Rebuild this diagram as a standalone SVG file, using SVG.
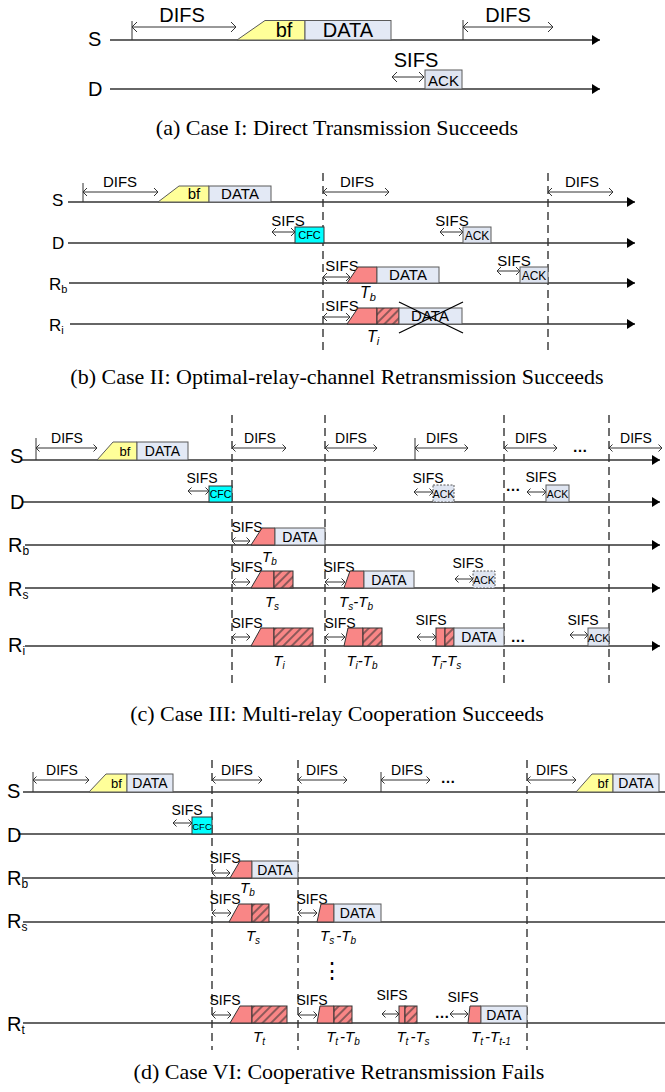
<svg xmlns="http://www.w3.org/2000/svg" width="665" height="1092" viewBox="0 0 665 1092">
<defs>
<style>
.tl{stroke:#333;stroke-width:1.5;fill:none}
.tlA{stroke:#333;stroke-width:1.5;fill:none;marker-end:url(#tri)}
.dash{stroke:#333;stroke-width:1.4;stroke-dasharray:8 5;fill:none}
.tk{stroke:#333;stroke-width:1;fill:none}
.aA{stroke:#333;stroke-width:1;fill:none;marker-start:url(#chA);marker-end:url(#chA)}
.aB{stroke:#333;stroke-width:1;fill:none;marker-start:url(#chB);marker-end:url(#chB)}
.aC{stroke:#333;stroke-width:1;fill:none;marker-start:url(#chC);marker-end:url(#chC)}
.data{fill:#e3e9f5;stroke:#5a5a5a;stroke-width:1}
.bf{fill:#ffff99;stroke:#5a5a5a;stroke-width:1}
.red{fill:#f98686;stroke:#333;stroke-width:1}
.hat{fill:url(#hatch);stroke:#333;stroke-width:1}
.cfc{fill:#00ffff;stroke:#333;stroke-width:1}
.ack{fill:#dfe5f1;stroke:#5a5a5a;stroke-width:1}
.ackd{fill:#dfe5f1;stroke:#5a5a5a;stroke-width:1;stroke-dasharray:2 1.5}
.x{stroke:#000;stroke-width:1.3}
text{font-family:"Liberation Sans",Arial,sans-serif;fill:#000}
.m{text-anchor:middle}
.n{font-family:"Liberation Sans Narrow","Arial Narrow","Liberation Sans",Arial,sans-serif}
.it{font-style:italic}
.cap{font-family:"Liberation Serif","Times New Roman",serif;font-size:22px;text-anchor:middle}
.fa{font-size:20px}
.fb{font-size:15px}
.fl{font-size:17px}
.fc{font-size:14px}
.fr{font-size:20px}
.fs{font-size:10.5px}
.dots{font-size:15px;font-weight:bold;text-anchor:middle}
</style>
<marker id="tri" markerUnits="userSpaceOnUse" markerWidth="10" markerHeight="12" refX="8" refY="5" orient="auto" overflow="visible"><path d="M0,0 L8,5 L0,10 z" fill="#000"/></marker>
<marker id="chA" markerUnits="userSpaceOnUse" markerWidth="10" markerHeight="12" refX="6" refY="5" orient="auto-start-reverse" overflow="visible"><path d="M1,0 L6,5 L1,10" fill="none" stroke="#333" stroke-width="1"/></marker>
<marker id="chB" markerUnits="userSpaceOnUse" markerWidth="10" markerHeight="12" refX="6" refY="5" orient="auto-start-reverse" overflow="visible"><path d="M2,1 L6,5 L2,9" fill="none" stroke="#333" stroke-width="1"/></marker>
<marker id="chC" markerUnits="userSpaceOnUse" markerWidth="10" markerHeight="12" refX="6" refY="5" orient="auto-start-reverse" overflow="visible"><path d="M2.5,1.5 L6,5 L2.5,8.5" fill="none" stroke="#333" stroke-width="1"/></marker>
<pattern id="hatch" patternUnits="userSpaceOnUse" width="6" height="6" patternTransform="rotate(45)"><rect width="6" height="6" fill="#f98686"/><line x1="3" y1="0" x2="3" y2="6" stroke="#333" stroke-width="1.1"/></pattern>
</defs>
<rect width="665" height="1092" fill="#fff"/>

<!-- Panel (a) -->
<g id="panel-a">
<g id="a-connectors">
<line class="tlA" x1="110" y1="40" x2="600" y2="40"/>
<line class="tlA" x1="110" y1="89" x2="600" y2="89"/>
<line class="tk" x1="132" y1="21" x2="132" y2="40"/>
<line class="aA" x1="132" y1="27" x2="236" y2="27"/>
<line class="tk" x1="463" y1="20" x2="463" y2="40"/>
<line class="aA" x1="463" y1="27" x2="553" y2="27"/>
<line class="aA" x1="392" y1="77" x2="424" y2="77"/>
</g>
<g id="a-labels">
<text class="fa" x="88" y="46">S</text>
<text class="fa" x="88" y="96">D</text>
<text class="fa m" x="182" y="22">DIFS</text>
<text class="fa m" x="508" y="22">DIFS</text>
<text class="fa m" x="416" y="67">SIFS</text>
</g>
<g id="a-bf"><polygon class="bf" points="237,40 265,20.5 305,20.5 305,40"/><text class="fa m" x="284" y="37">bf</text></g>
<g id="a-data"><rect class="data" x="305" y="20.5" width="86" height="19.5"/><text class="fa m" x="348" y="37">DATA</text></g>
<g id="a-ack"><rect class="ack" x="425" y="70" width="37" height="19"/><text class="m" font-size="15" x="443.5" y="85.5">ACK</text></g>
<text class="cap" x="337" y="135">(a) Case I: Direct Transmission Succeeds</text>
</g>

<!-- Panel (b) -->
<g id="panel-b">
<g id="b-connectors">
<line class="tlA" x1="68" y1="202" x2="635" y2="202"/>
<line class="tlA" x1="68" y1="243" x2="635" y2="243"/>
<line class="tlA" x1="69" y1="283" x2="635" y2="283"/>
<line class="tlA" x1="70" y1="324" x2="635" y2="324"/>
<line class="dash" x1="323" y1="173" x2="323" y2="350"/>
<line class="dash" x1="548" y1="173" x2="548" y2="350"/>
<line class="tk" x1="83" y1="183" x2="83" y2="202"/>
<line class="aB" x1="83" y1="192" x2="158" y2="192"/>
<line class="aB" x1="323" y1="192" x2="389" y2="192"/>
<line class="aB" x1="548" y1="192" x2="613" y2="192"/>
<line class="aB" x1="272" y1="232" x2="295" y2="232"/>
<line class="aB" x1="440" y1="232" x2="463" y2="232"/>
<line class="aB" x1="323" y1="277" x2="350" y2="277"/>
<line class="aB" x1="497" y1="271" x2="520" y2="271"/>
<line class="aB" x1="323" y1="317" x2="350" y2="317"/>
</g>
<g id="b-labels">
<text class="fl" x="52" y="206">S</text>
<text class="fl" x="52" y="249">D</text>
<text class="fl" x="49" y="290">R<tspan font-size="11" dy="3">b</tspan></text>
<text class="fl" x="49" y="331">R<tspan font-size="11" dy="3">i</tspan></text>
<text class="fb m" x="120" y="187">DIFS</text>
<text class="fb m" x="357" y="187">DIFS</text>
<text class="fb m" x="582" y="187">DIFS</text>
<text class="fb m" x="288" y="226">SIFS</text>
<text class="fb m" x="452" y="226">SIFS</text>
<text class="fb m" x="342" y="271">SIFS</text>
<text class="fb m" x="514" y="266">SIFS</text>
<text class="fb m" x="342" y="311">SIFS</text>
<text class="it" font-size="16" x="360" y="298">T<tspan font-size="11" dy="3">b</tspan></text>
<text class="it" font-size="16" x="367" y="342">T<tspan font-size="11" dy="3">i</tspan></text>
</g>
<g id="b-bf"><polygon class="bf" points="158,202 179,186 209,186 209,202"/><text class="fb m" x="194" y="199">bf</text></g>
<g id="b-data"><rect class="data" x="209" y="186" width="62" height="16"/><text class="fb m" x="240" y="199">DATA</text></g>
<g id="b-cfc"><rect class="cfc" x="295" y="227" width="29" height="16"/><text class="m" font-size="11" x="309.5" y="239">CFC</text></g>
<g id="b-ack-d"><rect class="ack" x="463" y="227" width="28" height="16"/><text class="m" font-size="12" x="477" y="239.5">ACK</text></g>
<g id="b-rb-tx"><polygon class="red" points="347,283 358,267 377,267 377,283"/><rect class="data" x="377" y="267" width="62" height="16"/><text class="fb m" x="408" y="280">DATA</text></g>
<g id="b-rb-ack"><rect class="ack" x="520" y="267" width="28" height="16"/><text class="m" font-size="12" x="534" y="280">ACK</text></g>
<g id="b-ri-tx"><polygon class="red" points="347,324 358,308 377,308 377,324"/><rect class="hat" x="377" y="308" width="22" height="16"/><rect class="data" x="399" y="308" width="63" height="16"/><text class="fb m" x="430" y="321">DATA</text>
<line class="x" x1="399" y1="302" x2="463" y2="333"/><line class="x" x1="399" y1="333" x2="463" y2="302"/></g>
<text class="cap" x="337" y="384">(b) Case II: Optimal-relay-channel Retransmission Succeeds</text>
</g>

<!-- Panel (c) -->
<g id="panel-c">
<g id="c-connectors">
<line class="tlA" x1="22" y1="460" x2="660" y2="460"/>
<line class="tlA" x1="22" y1="502" x2="660" y2="502"/>
<line class="tlA" x1="25" y1="545" x2="660" y2="545"/>
<line class="tlA" x1="25" y1="588" x2="660" y2="588"/>
<line class="tlA" x1="25" y1="646" x2="660" y2="646"/>
<line class="dash" x1="232" y1="415" x2="232" y2="687"/>
<line class="dash" x1="325" y1="415" x2="325" y2="687"/>
<line class="dash" x1="504" y1="415" x2="504" y2="687"/>
<line class="dash" x1="609" y1="415" x2="609" y2="687"/>
<line class="tk" x1="36" y1="438" x2="36" y2="460"/>
<line class="aC" x1="36" y1="448" x2="97" y2="448"/>
<line class="aC" x1="232" y1="448" x2="286" y2="448"/>
<line class="aC" x1="325" y1="448" x2="377" y2="448"/>
<line class="tk" x1="415" y1="438" x2="415" y2="460"/>
<line class="aC" x1="415" y1="448" x2="468" y2="448"/>
<line class="aC" x1="504" y1="448" x2="557" y2="448"/>
<line class="aC" x1="609" y1="448" x2="662" y2="448"/>
<line class="aC" x1="188" y1="491" x2="209" y2="491"/>
<line class="aC" x1="414" y1="492" x2="433" y2="492"/>
<line class="aC" x1="527" y1="492" x2="546" y2="492"/>
<line class="aC" x1="232" y1="541" x2="250" y2="541"/>
<line class="aC" x1="232" y1="582" x2="250" y2="582"/>
<line class="aC" x1="325" y1="582" x2="345" y2="582"/>
<line class="aC" x1="455" y1="579" x2="473" y2="579"/>
<line class="aC" x1="232" y1="637" x2="250" y2="637"/>
<line class="aC" x1="325" y1="637" x2="345" y2="637"/>
<line class="aC" x1="417" y1="637" x2="436" y2="637"/>
<line class="aC" x1="570" y1="635" x2="588" y2="635"/>
</g>
<g id="c-labels">
<text class="n fr" x="10" y="463">S</text>
<text class="n fr" x="10" y="509">D</text>
<text class="n fr" x="8" y="552">R<tspan font-size="12" dy="3">b</tspan></text>
<text class="n fr" x="8" y="596">R<tspan font-size="12" dy="3">s</tspan></text>
<text class="n fr" x="8" y="652">R<tspan font-size="12" dy="3">i</tspan></text>
<text class="n fc m" x="67" y="443">DIFS</text>
<text class="n fc m" x="260" y="443">DIFS</text>
<text class="n fc m" x="351" y="443">DIFS</text>
<text class="n fc m" x="442" y="443">DIFS</text>
<text class="n fc m" x="531" y="443">DIFS</text>
<text class="n fc m" x="636" y="443">DIFS</text>
<text class="dots" x="580" y="452">…</text>
<text class="n fc m" x="202" y="483">SIFS</text>
<text class="n fc m" x="428" y="483">SIFS</text>
<text class="n fc m" x="541" y="482">SIFS</text>
<text class="dots" x="513" y="491">…</text>
<text class="n fc m" x="247" y="532">SIFS</text>
<text class="n fc m" x="247" y="572">SIFS</text>
<text class="n fc m" x="339" y="572">SIFS</text>
<text class="n fc m" x="468" y="568">SIFS</text>
<text class="n fc m" x="247" y="628">SIFS</text>
<text class="n fc m" x="340" y="628">SIFS</text>
<text class="n fc m" x="431" y="625">SIFS</text>
<text class="n fc m" x="583" y="625">SIFS</text>
<text class="dots" x="518" y="642">…</text>
<text class="it" font-size="15" x="262" y="562">T<tspan font-size="10" dy="3">b</tspan></text>
<text class="it m" font-size="15" x="272" y="607">T<tspan font-size="10" dy="3">s</tspan></text>
<text class="it m" font-size="15" x="356" y="607">T<tspan font-size="10" dy="3">s</tspan><tspan dy="-3">-T</tspan><tspan font-size="10" dy="3">b</tspan></text>
<text class="it m" font-size="15" x="279" y="666">T<tspan font-size="10" dy="3">i</tspan></text>
<text class="it m" font-size="15" x="362" y="666">T<tspan font-size="10" dy="3">i</tspan><tspan dy="-3">-T</tspan><tspan font-size="10" dy="3">b</tspan></text>
<text class="it m" font-size="15" x="446" y="666">T<tspan font-size="10" dy="3">i</tspan><tspan dy="-3">-T</tspan><tspan font-size="10" dy="3">s</tspan></text>
</g>
<g id="c-bf"><polygon class="bf" points="97,460 113,442 137,442 137,460"/><text class="n m" font-size="13" x="125" y="456">bf</text></g>
<g id="c-data"><rect class="data" x="137" y="442" width="51" height="18"/><text class="n fc m" x="162.5" y="456">DATA</text></g>
<g id="c-cfc"><rect class="cfc" x="209" y="486" width="23" height="16"/><text class="n m fs" x="220.5" y="498">CFC</text></g>
<g id="c-ack-d1"><rect class="ackd" x="433" y="485" width="21" height="17"/><text class="n m fs" x="443.5" y="497.5">ACK</text></g>
<g id="c-ack-d2"><rect class="ack" x="546" y="485" width="23" height="17"/><text class="n m fs" x="557.5" y="497.5">ACK</text></g>
<g id="c-rb-tx"><polygon class="red" points="251,545 262,528 275,528 275,545"/><rect class="data" x="275" y="528" width="50" height="17"/><text class="n fc m" x="300" y="542">DATA</text></g>
<g id="c-rs-tx1"><polygon class="red" points="251,588 261,571 274,571 274,588"/><rect class="hat" x="274" y="571" width="19" height="17"/></g>
<g id="c-rs-tx2"><polygon class="red" points="344,588 350,571 364,571 364,588"/><rect class="data" x="364" y="571" width="50" height="17"/><text class="n fc m" x="389" y="585">DATA</text></g>
<g id="c-rs-ack"><rect class="ackd" x="473" y="571" width="22" height="17"/><text class="n m fs" x="484" y="584">ACK</text></g>
<g id="c-ri-tx1"><polygon class="red" points="251,646 261,628 274,628 274,646"/><rect class="hat" x="274" y="628" width="39" height="18"/></g>
<g id="c-ri-tx2"><polygon class="red" points="344,646 348,628 363,628 363,646"/><rect class="hat" x="363" y="628" width="19" height="18"/></g>
<g id="c-ri-tx3"><rect class="red" x="436" y="628" width="9" height="18"/><rect class="hat" x="445" y="628" width="9" height="18"/><rect class="data" x="454" y="628" width="50" height="18"/><text class="n fc m" x="479" y="642">DATA</text></g>
<g id="c-ri-ack"><rect class="ack" x="588" y="628" width="21" height="18"/><text class="n m fs" x="598.5" y="641.5">ACK</text></g>
<text class="cap" x="337" y="721">(c) Case III: Multi-relay Cooperation Succeeds</text>
</g>

<!-- Panel (d) -->
<g id="panel-d">
<g id="d-connectors">
<line class="tl" x1="23" y1="792" x2="665" y2="792"/>
<line class="tl" x1="18" y1="834" x2="665" y2="834"/>
<line class="tl" x1="22" y1="878" x2="665" y2="878"/>
<line class="tl" x1="23" y1="922" x2="665" y2="922"/>
<line class="tl" x1="23" y1="1023" x2="665" y2="1023"/>
<line class="dash" x1="212" y1="760" x2="212" y2="1050"/>
<line class="dash" x1="298" y1="760" x2="298" y2="1050"/>
<line class="dash" x1="527" y1="760" x2="527" y2="1050"/>
<line class="tk" x1="33" y1="772" x2="33" y2="792"/>
<line class="aC" x1="33" y1="780" x2="89" y2="780"/>
<line class="aC" x1="212" y1="780" x2="262" y2="780"/>
<line class="aC" x1="298" y1="780" x2="347" y2="780"/>
<line class="tk" x1="381" y1="772" x2="381" y2="792"/>
<line class="aC" x1="381" y1="780" x2="430" y2="780"/>
<line class="aC" x1="527" y1="780" x2="576" y2="780"/>
<line class="aC" x1="173" y1="823" x2="192" y2="823"/>
<line class="aC" x1="212" y1="873" x2="230" y2="873"/>
<line class="aC" x1="212" y1="913" x2="231" y2="913"/>
<line class="aC" x1="298" y1="913" x2="317" y2="913"/>
<line class="aC" x1="212" y1="1015" x2="231" y2="1015"/>
<line class="aC" x1="298" y1="1015" x2="317" y2="1015"/>
<line class="aC" x1="382" y1="1014" x2="399" y2="1014"/>
<line class="aC" x1="450" y1="1014" x2="468" y2="1014"/>
</g>
<g id="d-labels">
<text class="n fr" x="7" y="798">S</text>
<text class="n fr" x="7" y="842">D</text>
<text class="n fr" x="7" y="885">R<tspan font-size="12" dy="3">b</tspan></text>
<text class="n fr" x="7" y="928">R<tspan font-size="12" dy="3">s</tspan></text>
<text class="n fr" x="7" y="1031">R<tspan font-size="12" dy="3">t</tspan></text>
<text class="n fc m" x="62" y="775">DIFS</text>
<text class="n fc m" x="237" y="775">DIFS</text>
<text class="n fc m" x="322" y="775">DIFS</text>
<text class="n fc m" x="407" y="775">DIFS</text>
<text class="n fc m" x="552" y="775">DIFS</text>
<text class="dots" x="448" y="783">…</text>
<text class="n fc m" x="187" y="815">SIFS</text>
<text class="n fc m" x="225" y="863">SIFS</text>
<text class="n fc m" x="225" y="904">SIFS</text>
<text class="n fc m" x="312" y="904">SIFS</text>
<text class="m" font-size="22" x="332" y="978">⋮</text>
<text class="n fc m" x="225" y="1005">SIFS</text>
<text class="n fc m" x="312" y="1005">SIFS</text>
<text class="n fc m" x="392" y="1000">SIFS</text>
<text class="n fc m" x="463" y="1002">SIFS</text>
<text class="dots" x="442" y="1018">…</text>
<text class="it" font-size="15" x="240" y="893">T<tspan font-size="10" dy="3">b</tspan></text>
<text class="it m" font-size="15" x="253" y="941">T<tspan font-size="10" dy="3">s</tspan></text>
<text class="it m" font-size="15" x="338" y="941">T<tspan font-size="10" dy="3">s</tspan><tspan dy="-3" dx="2">-T</tspan><tspan font-size="10" dy="3">b</tspan></text>
<text class="it m" font-size="15" x="259" y="1042">T<tspan font-size="10" dy="3">t</tspan></text>
<text class="it m" font-size="15" x="343" y="1042">T<tspan font-size="10" dy="3">t</tspan><tspan dy="-3" dx="2">-T</tspan><tspan font-size="10" dy="3">b</tspan></text>
<text class="it m" font-size="15" x="413" y="1042">T<tspan font-size="10" dy="3">t</tspan><tspan dy="-3" dx="2">-T</tspan><tspan font-size="10" dy="3">s</tspan></text>
<text class="it m" font-size="15" x="491" y="1042">T<tspan font-size="10" dy="3">t</tspan><tspan dy="-3" dx="2">-T</tspan><tspan font-size="10" dy="3">t-1</tspan></text>
</g>
<g id="d-bf1"><polygon class="bf" points="89,792 106,774 127,774 127,792"/><text class="n m" font-size="13" x="116.5" y="788">bf</text></g>
<g id="d-data1"><rect class="data" x="127" y="774" width="46" height="18"/><text class="n fc m" x="150" y="788">DATA</text></g>
<g id="d-bf2"><polygon class="bf" points="576,792 592,774 613,774 613,792"/><text class="n m" font-size="13" x="603" y="788">bf</text></g>
<g id="d-data2"><rect class="data" x="613" y="774" width="46" height="18"/><text class="n fc m" x="636" y="788">DATA</text></g>
<g id="d-cfc"><rect class="cfc" x="192" y="817" width="20" height="17"/><text class="n m" font-size="9.5" x="202" y="829.5">CFC</text></g>
<g id="d-rb-tx"><polygon class="red" points="230,878 240,861 252,861 252,878"/><rect class="data" x="252" y="861" width="46" height="17"/><text class="n fc m" x="275" y="875">DATA</text></g>
<g id="d-rs-tx1"><polygon class="red" points="229,922 239,904 252,904 252,922"/><rect class="hat" x="252" y="904" width="17" height="18"/></g>
<g id="d-rs-tx2"><polygon class="red" points="317,922 321,904 334,904 334,922"/><rect class="data" x="334" y="904" width="47" height="18"/><text class="n fc m" x="357.5" y="918">DATA</text></g>
<g id="d-rt-tx1"><polygon class="red" points="230,1023 240,1006 252,1006 252,1023"/><rect class="hat" x="252" y="1006" width="35" height="17"/></g>
<g id="d-rt-tx2"><polygon class="red" points="317,1023 320,1006 334,1006 334,1023"/><rect class="hat" x="334" y="1006" width="18" height="17"/></g>
<g id="d-rt-tx3"><rect class="red" x="399" y="1006" width="6" height="17"/><rect class="hat" x="405" y="1006" width="12" height="17"/></g>
<g id="d-rt-tx4"><polygon class="red" points="468,1023 470,1006 481,1006 481,1023"/><rect class="data" x="481" y="1006" width="46" height="17"/><text class="n fc m" x="504" y="1020">DATA</text></g>
<text class="cap" x="339" y="1079">(d) Case VI: Cooperative Retransmission Fails</text>
</g>
</svg>
